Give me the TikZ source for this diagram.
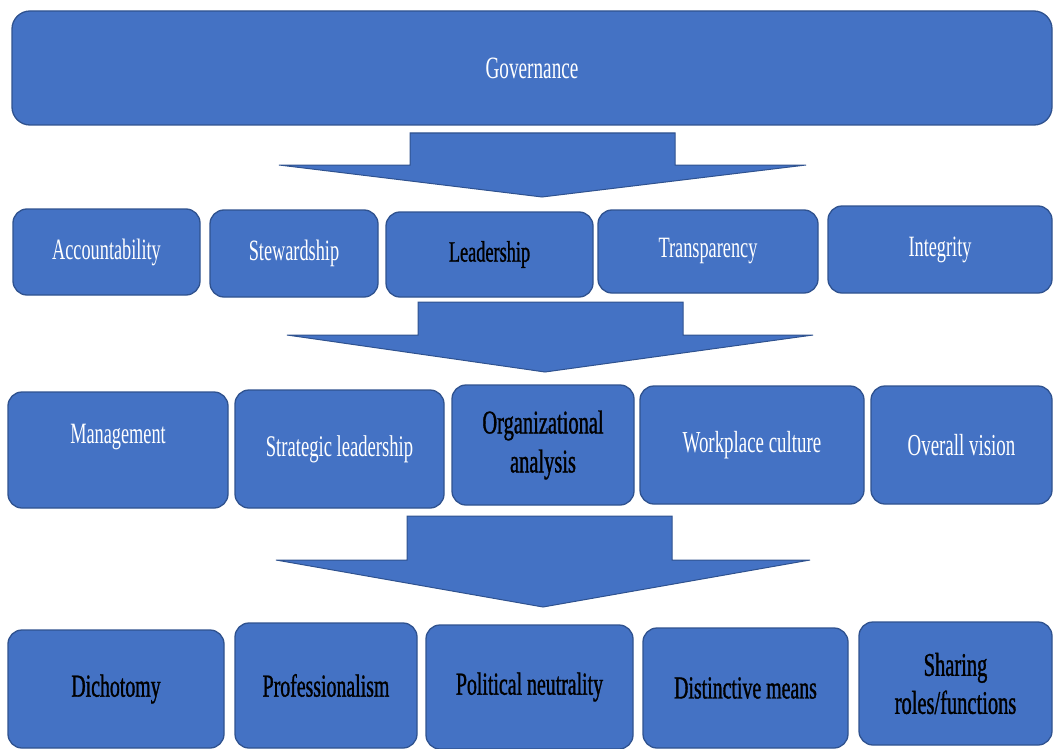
\documentclass[tikz,border=0pt]{standalone}
\usepackage{fontspec}
\setmainfont[FakeStretch=0.62]{Liberation Serif}
\newfontfamily\heavyserif[FakeStretch=0.62,FakeBold=1]{Liberation Serif}
\definecolor{boxblue}{HTML}{4472C4}
\definecolor{boxedge}{HTML}{2F528F}
\newcommand\blockbox[7]{\node[box,#6,minimum width={#3-#2},minimum height={#5-#4}] (#1) at ({(#2+#3)/2},{(#4+#5)/2}) {#7};}
\tikzset{
  box/.style={draw=boxedge, line width=1.3pt, fill=boxblue, rounded corners=14pt, inner sep=0pt, align=center},
  wt/.style={text=white, font=\fontsize{29.5}{36}\selectfont},
  bt/.style={text=black, font=\heavyserif\fontsize{32}{40}\selectfont},
  blockarrow/.style={fill=boxblue, draw=boxedge, line width=1pt, line join=miter}
}
\begin{document}
\begin{tikzpicture}[x=1pt,y=-1pt]
\useasboundingbox (0,0) rectangle (1054,749);
% top
\blockbox{gov}{12}{1052}{11}{125}{wt,font=\fontsize{31}{36}\selectfont,rounded corners=18pt}{Governance}
% arrow 1
\draw[blockarrow] (410,133) -- (675,133) -- (675,165) -- (806,165) -- (542,197) -- (279,165) -- (410,165) -- cycle;
% row 1
\blockbox{acc}{13}{200}{209}{295}{wt}{Accountability}
\blockbox{stew}{210}{378}{210}{297}{wt}{Stewardship}
\blockbox{lead}{386}{593}{212}{297}{bt,font=\heavyserif\fontsize{29.5}{36}\selectfont}{Leadership}
\blockbox{trans}{598}{818}{210}{293}{wt}{Transparency}
\blockbox{integ}{828}{1052}{206}{293}{wt}{Integrity}
% arrow 2
\draw[blockarrow] (418,302) -- (683,302) -- (683,335) -- (813,335) -- (545,372) -- (287,335) -- (418,335) -- cycle;
% row 2
\blockbox{mgmt}{8}{228}{392}{508}{wt}{}
\node[wt] (mgmtlabel) at (118,437) {Management};
\blockbox{strat}{235}{444}{390}{508}{wt,font=\fontsize{30}{36}\selectfont}{Strategic leadership}
\blockbox{org}{452}{634}{385}{505}{bt,font=\heavyserif\fontsize{33}{39}\selectfont}{Organizational\\analysis}
\blockbox{work}{640}{864}{386}{504}{wt,font=\fontsize{30.5}{36}\selectfont}{Workplace culture}
\blockbox{vision}{871}{1052}{386}{504}{wt,font=\fontsize{30.5}{36}\selectfont}{Overall vision}
% arrow 3
\draw[blockarrow] (407,516) -- (672,516) -- (672,560) -- (810,560) -- (543,607) -- (276,560) -- (407,560) -- cycle;
% row 3
\blockbox{dich}{8}{224}{630}{748}{bt}{Dichotomy}
\blockbox{prof}{235}{417}{623}{748}{bt}{Professionalism}
\blockbox{pol}{426}{633}{625}{749}{bt}{Political neutrality}
\blockbox{dist}{643}{848}{628}{748}{bt}{Distinctive means}
\blockbox{share}{859}{1052}{622}{745}{bt,font=\heavyserif\fontsize{33}{38}\selectfont}{Sharing\\roles/functions}
\end{tikzpicture}
\end{document}
